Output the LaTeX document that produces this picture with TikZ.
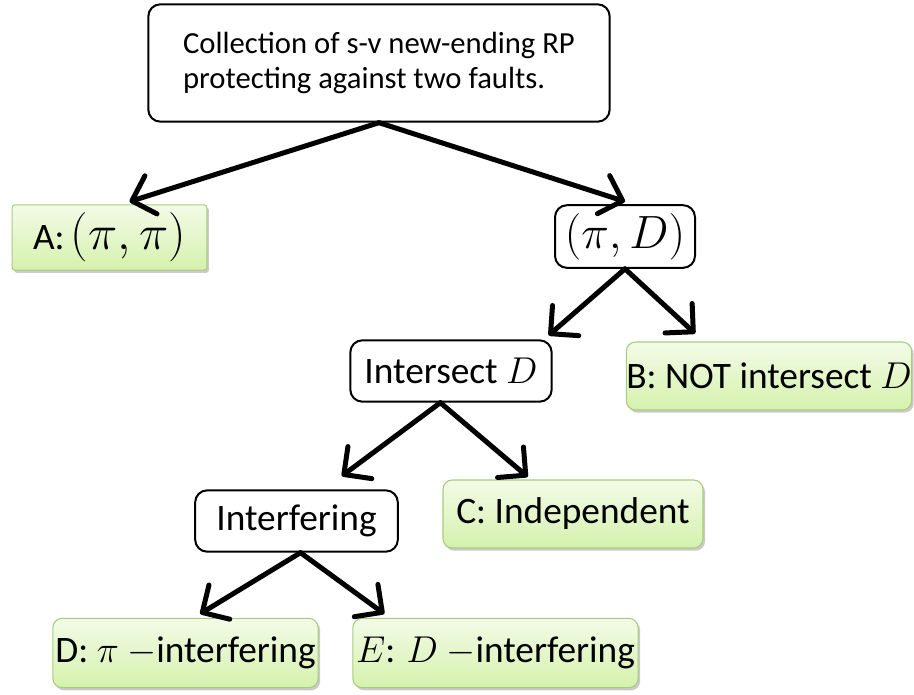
\RequirePackage{fix-cm}
\documentclass[tikz,border=0pt]{standalone}
\usepackage{fontspec}
\setmainfont{Carlito}
\usetikzlibrary{arrows.meta,shadows}

\definecolor{leafTop}{HTML}{F3FBE8}
\definecolor{leafBot}{HTML}{D5F1AC}
\definecolor{leafLine}{HTML}{A8CC7C}

\begin{document}
\begin{tikzpicture}[x=0.75pt,y=-0.75pt,
  inner/.style={draw=black, line width=1.5pt, rounded corners=9pt, fill=white,
    font=\fontsize{28}{32}\selectfont, inner sep=0pt},
  leaf/.style={draw=leafLine, line width=0.8pt, rounded corners=7pt,
    top color=leafTop, bottom color=leafBot,
    drop shadow={shadow xshift=1.5pt, shadow yshift=-2pt, opacity=0.35, fill=black!60},
    font=\fontsize{28}{32}\selectfont, inner sep=0pt},
  edge/.style={line width=3.75pt, line cap=round, -{Straight Barb[length=15pt,width=30pt,round]}}]

\useasboundingbox (0,0) rectangle (914,694);

\node[inner, minimum width=346pt, minimum height=88pt, align=left,
  font=\fontsize{23}{26}\selectfont] (root) at (379,63)
  {Collection of s-v new-ending RP\\protecting against two faults.};

\node[leaf, rounded corners=2pt, minimum width=146pt, minimum height=49pt] (A) at (109.5,237.5)
  {A:\,{\fontsize{37}{40}\selectfont$(\pi,\pi)$}};
\node[inner, minimum width=105pt, minimum height=47pt] (PD) at (625,236.5)
  {\fontsize{35}{38}\selectfont$(\pi,D)$};

\node[inner, minimum width=151pt, minimum height=46pt] (inter) at (451,371)
  {Intersect $D$};
\node[leaf, minimum width=211pt, minimum height=51pt] (B) at (769,376)
  {B: NOT intersect $D$};

\node[inner, minimum width=152pt, minimum height=46pt] (interf) at (296.5,521)
  {Interfering};
\node[leaf, minimum width=195pt, minimum height=51pt] (C) at (573,514)
  {C: Independent};

\node[leaf, minimum width=199pt, minimum height=52pt] (D) at (185.5,653)
  {D: $\pi$ $-$interfering};
\node[leaf, minimum width=214pt, minimum height=52pt] (E) at (495.5,653)
  {$E$: $D$ $-$interfering};

\draw[edge] (root.south) -- ([xshift=15pt,yshift=2pt]A.north);
\draw[edge] (root.south) -- ([yshift=2pt]PD.north);

\draw[edge] (PD.south) -- ([xshift=-3pt,yshift=3pt]inter.north east);
\draw[edge] (PD.south) -- ([xshift=52pt,yshift=6pt]B.north west);

\draw[edge] ([xshift=-8pt]inter.south) -- ([xshift=34pt,yshift=10pt]interf.north);
\draw[edge] ([xshift=-8pt]inter.south) -- ([xshift=-34pt,yshift=2pt]C.north);

\draw[edge] ([xshift=3pt]interf.south) -- ([xshift=11pt,yshift=3pt]D.north);
\draw[edge] ([xshift=3pt]interf.south) -- ([xshift=24pt,yshift=3pt]E.north west);

\end{tikzpicture}
\end{document}
